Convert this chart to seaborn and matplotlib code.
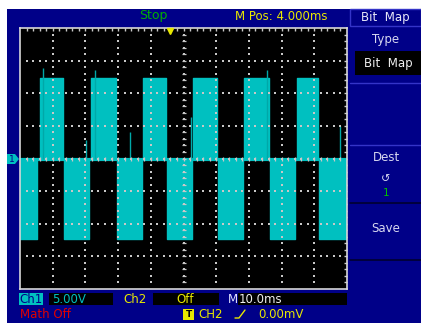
import numpy as np
import pandas as pd
import matplotlib.pyplot as plt
import matplotlib.patches as mpatches
import seaborn as sns

# screen: 10 div x 8 div, 10 ms/div, 5 V/div, centre at M Pos 4.000 ms
T_LEFT, T_RIGHT = -46.0, 54.0
V_LOW, V_HIGH = -20.0, 20.0

# burst edges (ms)
pos_start = [-39.9, -24.3, -8.4, 6.9, 22.5, 38.7]
pos_end = [-32.9, -16.6, -1.4, 14.2, 30.1, 45.1]
neg_start = [-46.0, -32.5, -16.3, -1.0, 14.6, 30.5, 45.4]
neg_end = [-40.8, -24.9, -8.7, 6.6, 22.2, 38.1, 54.0]
pos_level = 12.4
neg_level = -12.4

# glitches on the trace (ms, V)
spike_t = [-39.0, -25.8, -23.1, -12.4, 6.3, 29.5, 51.9]
spike_v = [13.9, 2.8, 13.6, 4.1, 6.4, 13.5, 5.0]

NAVY = '#000088'
CYAN = '#00c0c0'
YELLOW = '#e8e800'
GRID = '#c8c8c8'

W, H = 421, 323


def fx(x):
    return x / W


def fy(y):
    return 1 - y / H


def build_trace():
    blocks = [(s, e, pos_level) for s, e in zip(pos_start, pos_end)]
    blocks += [(s, e, neg_level) for s, e in zip(neg_start, neg_end)]
    blocks.sort()
    t, v = [T_LEFT], [0.0]
    for s, e, lvl in blocks:
        t += [s, s, e, e]
        v += [0.0, lvl, lvl, 0.0]
    t.append(T_RIGHT)
    v.append(0.0)
    return pd.DataFrame({'t': t, 'v': v})


def txt(fig, x, y, s, color, size=8, ha='center', **kw):
    fig.text(fx(x), fy(y), s, color=color, fontsize=size, ha=ha, va='center', **kw)


def rect(fig, x0, y0, x1, y1, color, ec='none', lw=0, z=1):
    fig.patches.append(mpatches.Rectangle((fx(x0), fy(y1)), fx(x1) - fx(x0), fy(y0) - fy(y1),
                                          transform=fig.transFigure, facecolor=color,
                                          edgecolor=ec, linewidth=lw, figure=fig, zorder=z))


def hline(fig, x0, x1, y, color, lw=1):
    fig.lines.append(plt.Line2D([fx(x0), fx(x1)], [fy(y), fy(y)], transform=fig.transFigure,
                                color=color, linewidth=lw, figure=fig))


sns.set_style('dark')
plt.rcParams['font.family'] = ['DejaVu Sans']

fig = plt.figure(figsize=(W / 100, H / 100), dpi=100)
fig.patch.set_facecolor('white')
rect(fig, 7, 9, W, H, NAVY, z=-5)

ax = fig.add_axes([fx(20), fy(289), fx(347) - fx(20), fy(28) - fy(289)])
ax.set_zorder(3)
ax.set_facecolor('black')

trace = build_trace()
ax.fill_between(trace['t'], 0, trace['v'], color=CYAN, linewidth=0, zorder=2)
sns.lineplot(data=trace, x='t', y='v', sort=False, estimator=None, color=CYAN,
             linewidth=1, ax=ax, zorder=2)
ax.axhline(0, color=CYAN, linewidth=2.3, zorder=2)
ax.vlines(spike_t, 0, spike_v, color='#00a8a8', linewidth=1, zorder=2)

# dotted graticule
xmaj = np.arange(T_LEFT + 10, T_RIGHT, 10)
ymaj = np.arange(V_LOW + 5, V_HIGH, 5)
xmin = np.arange(T_LEFT + 2, T_RIGHT, 2)
ymin = np.arange(V_LOW + 1, V_HIGH, 1)
gx = np.concatenate([np.repeat(xmaj, len(ymin)), np.tile(xmin, len(ymaj))])
gy = np.concatenate([np.tile(ymin, len(xmaj)), np.repeat(ymaj, len(xmin))])
dots = pd.DataFrame({'t': gx, 'v': gy})
sns.scatterplot(data=dots, x='t', y='v', marker='s', s=0.8, color=GRID, linewidth=0,
                ax=ax, zorder=3)
ax.plot(np.full(len(ymin), 4.0), ymin, linestyle='none', marker='_', markersize=3,
        markeredgewidth=0.9, color=GRID, zorder=3)
ax.plot(xmin, np.zeros(len(xmin)), linestyle='none', marker='|', markersize=3,
        markeredgewidth=0.9, color=GRID, zorder=3)

# trigger position marker
ax.plot(0, 19.5, marker='v', markersize=5, color=YELLOW, clip_on=False, zorder=4)

ax.set_xlim(T_LEFT, T_RIGHT)
ax.set_ylim(V_LOW, V_HIGH)
ax.set_xticks(xmaj)
ax.set_yticks(ymaj)
ax.set_xticks(xmin, minor=True)
ax.set_yticks(ymin, minor=True)
ax.tick_params(which='both', direction='in', length=2.5, width=1, color=GRID,
               top=True, right=True, labelbottom=False, labelleft=False)
ax.set_xlabel('')
ax.set_ylabel('')
ax.grid(False)
for sp in ax.spines.values():
    sp.set_visible(True)
    sp.set_color('#d8d8d8')
    sp.set_linewidth(1.2)

# channel 1 ground marker
fig.patches.append(mpatches.Polygon([(fx(7), fy(154)), (fx(15), fy(154)), (fx(19), fy(159)),
                                     (fx(15), fy(164)), (fx(7), fy(164))],
                                    closed=True, transform=fig.transFigure, facecolor=CYAN,
                                    edgecolor='none', figure=fig))
txt(fig, 12, 159, '1', NAVY, size=6.5)

# top status
txt(fig, 153, 16, 'Stop', '#00b000', size=9)
txt(fig, 281, 16, 'M Pos: 4.000ms', YELLOW, size=8.5)

# right menu
rect(fig, 350, 9, 421, 26, NAVY, ec='#3434c8', lw=1)
txt(fig, 385, 17, 'Bit  Map', '#e8e8f8', size=8.5)
txt(fig, 386, 40, 'Type', '#d8d8f0', size=8.5)
rect(fig, 355, 51, 421, 75, 'black')
txt(fig, 388, 63, 'Bit  Map', '#f0f0f0', size=8.5)
hline(fig, 350, 421, 83, '#3434c8')
hline(fig, 350, 421, 145, '#3434c8')
hline(fig, 350, 421, 203, '#000030', lw=1.2)
hline(fig, 350, 421, 260, '#000030', lw=1.2)
txt(fig, 386, 157, 'Dest', '#d8d8f0', size=8.5)
txt(fig, 386, 179, '\u21ba', '#d8d8f0', size=8)
txt(fig, 386, 193, '1', '#00c000', size=7.5)
txt(fig, 386, 228, 'Save', '#d8d8f0', size=8.5)

# bottom status
rect(fig, 19, 293, 43, 305, CYAN)
txt(fig, 31, 299.5, 'Ch1', NAVY, size=8.5)
rect(fig, 49, 293, 113, 305, 'black')
txt(fig, 52, 299.5, '5.00V', CYAN, size=8.5, ha='left')
txt(fig, 135, 299.5, 'Ch2', YELLOW, size=8.5)
rect(fig, 153, 293, 219, 305, 'black')
txt(fig, 185, 299.5, 'Off', YELLOW, size=8.5)
txt(fig, 233, 299.5, 'M', '#e0e0ff', size=8.5)
rect(fig, 238, 293, 347, 305, 'black')
txt(fig, 239, 299.5, '10.0ms', '#f0f0f0', size=8.5, ha='left')
txt(fig, 20, 314, 'Math Off', '#e00000', size=8.5, ha='left')
rect(fig, 183, 309, 194, 320, YELLOW)
txt(fig, 188.5, 314.5, 'T', 'black', size=6.5, weight='bold')
txt(fig, 198, 314.5, 'CH2', YELLOW, size=8.5, ha='left')
fig.lines.append(plt.Line2D([fx(235), fx(239), fx(245)], [fy(318), fy(318), fy(310)],
                            transform=fig.transFigure, color=YELLOW, linewidth=1, figure=fig))
txt(fig, 258, 314.5, '0.00mV', YELLOW, size=8.5, ha='left')

fig.savefig('out.png', dpi=100)
